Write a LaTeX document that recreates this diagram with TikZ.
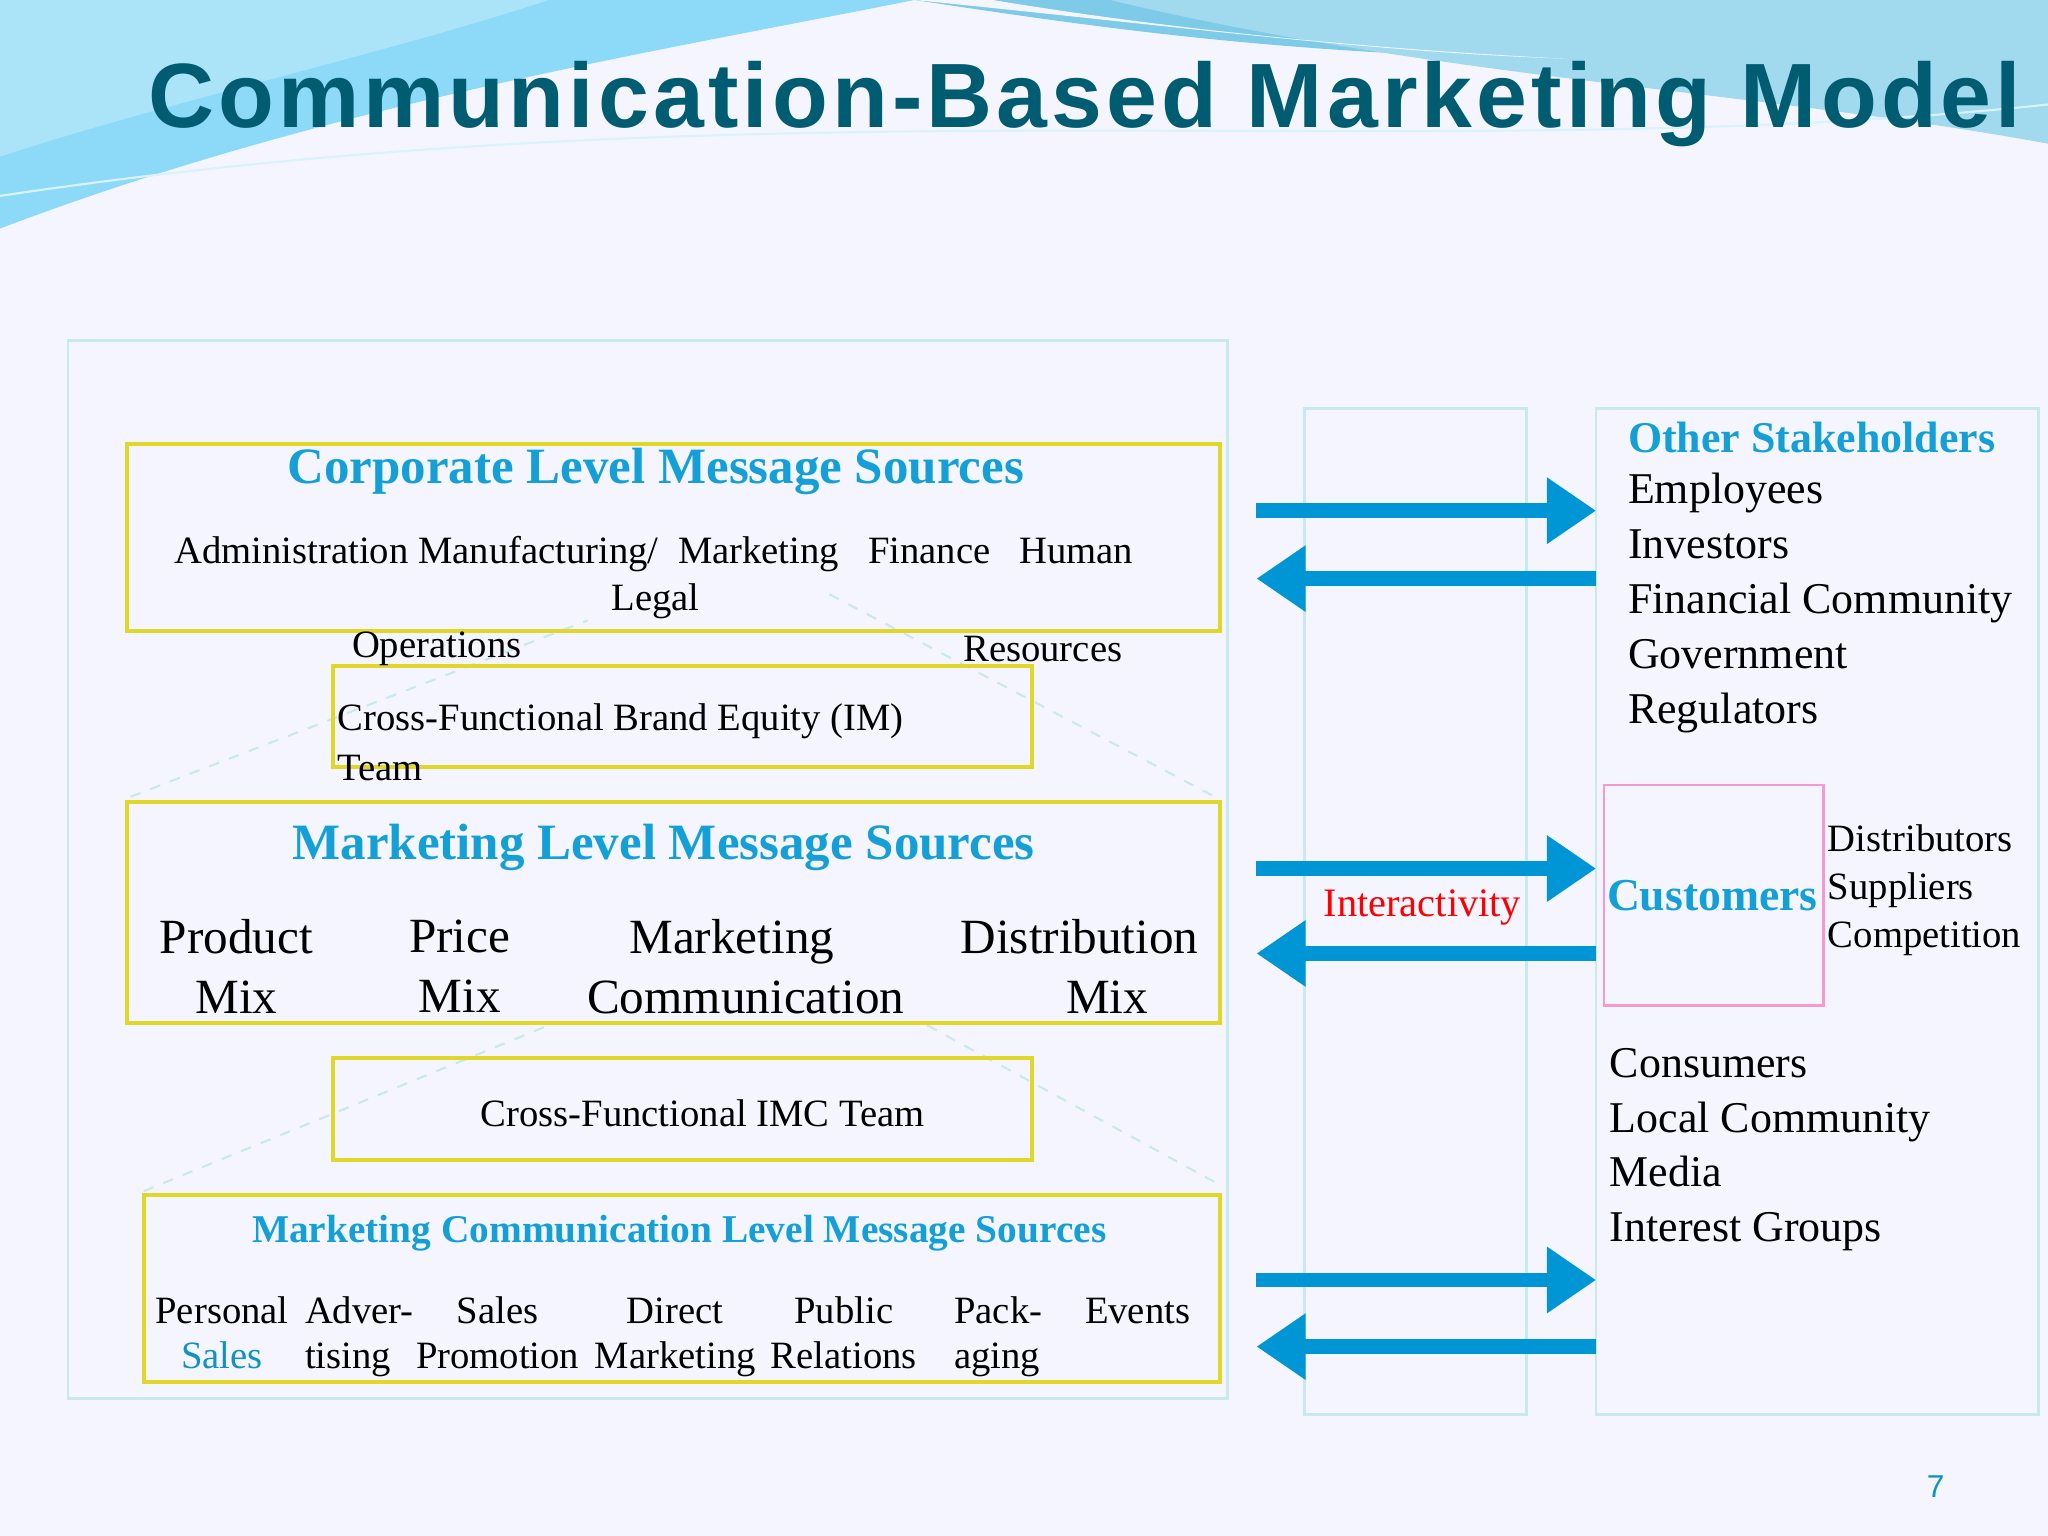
\documentclass[tikz,border=0pt]{standalone}
\usepackage{fontspec}
\setmainfont{Liberation Serif}
\newfontfamily\titlefont[LetterSpace=4.5]{Liberation Sans}
\newfontfamily\pgfont{Liberation Sans}
\usetikzlibrary{arrows.meta}
\definecolor{teal}{RGB}{0,92,112}
\definecolor{hblue}{RGB}{20,160,215}
\definecolor{abl}{RGB}{0,150,214}
\definecolor{frame}{RGB}{200,232,242}
\definecolor{ybox}{RGB}{225,215,40}
\tikzset{
 ybx/.style={draw=ybox,line width=1.2pt},
 fr/.style={draw=frame,line width=0.8pt},
 arr/.style={draw=abl,line width=4.2pt,-{Triangle[length=14pt,width=18pt]}},
 dl/.style={draw=frame,dashed,line width=0.6pt},
 hd/.style={text=hblue,font=\bfseries\fontsize{14.5}{16}\selectfont},
 bt/.style={font=\fontsize{11}{13}\selectfont,inner sep=0pt},
 bigt/.style={font=\fontsize{14}{17}\selectfont,inner sep=0pt,align=center},
 rt/.style={font=\fontsize{12.5}{15.6}\selectfont,inner sep=0pt,align=left}
}
\begin{document}
\begin{tikzpicture}[x=0.013061cm,y=-0.013061cm]
\useasboundingbox (0,0) rectangle (1568,1176);
\fill[white!96!blue] (0,0) rectangle (1568,1176);
% waves
\fill[cyan!45!white] (0,0) -- (700,0) .. controls (500,40) and (250,80) .. (0,175) -- cycle;
\fill[cyan!30!white,opacity=0.8] (0,0) -- (420,0) .. controls (300,40) and (120,80) .. (0,120) -- cycle;
\fill[hblue!55!white] (700,0) .. controls (900,30) and (1100,60) .. (1568,40) -- (1568,0) -- cycle;
\fill[hblue!40!white] (850,0) .. controls (1100,60) and (1350,70) .. (1568,110) -- (1568,0) -- cycle;
\fill[white!96!blue] (700,0) .. controls (900,20) and (1050,40) .. (1200,45) .. controls (1000,35) and (850,15) .. (760,0) -- cycle;
\draw[white!85!cyan, line width=0.6pt] (0,150) .. controls (600,60) and (1100,130) .. (1568,80);
\node[anchor=west,inner sep=0pt,text=teal,font=\titlefont\bfseries\fontsize{26}{30}\selectfont] (title) at (113,80) {Communication-Based Marketing Model};
% frames
\draw[fr] (52,261) rectangle (940,1071);
\draw[fr] (999,313) rectangle (1169,1083);
\draw[fr] (1222,313) rectangle (1561,1083);
% dashed
\draw[dl] (100,610) -- (450,475);
\draw[dl] (635,455) -- (930,610);
\draw[dl] (110,912) -- (420,785);
\draw[dl] (710,785) -- (930,905);
% yellow boxes
\draw[ybx] (97,340) rectangle (934,483);
\draw[ybx] (255,510) rectangle (790,587);
\draw[ybx] (97,614) rectangle (934,783);
\draw[ybx] (255,810) rectangle (790,888);
\draw[ybx] (110,915) rectangle (934,1058);
\node[hd] (h1) at (502,361) {Corporate Level Message Sources};
\node[bt,anchor=west] (c1) at (133,424) {Administration Manufacturing/\enspace Marketing\enspace\ Finance\enspace\ Human};
\node[bt] (c2) at (502,460) {Legal};
\node[bt,anchor=west] (c3) at (269,497) {Operations};
\node[bt,anchor=west] (c4) at (737,497) {Resources};
\node[bt,anchor=west] (cf1) at (258,552) {Cross-Functional Brand Equity (IM)};
\node[bt,anchor=west] (cf2) at (258,588) {Team};
\node[hd] (h2) at (508,649) {Marketing Level Message Sources};
\node[bigt] (m1) at (181,740) {Product\\Mix};
\node[bigt] (m2) at (352,740) {Price\\Mix};
\node[bigt,anchor=west,align=left] (m3) at (449,740) {\hspace{12pt}Marketing\\Communication};
\node[bigt,anchor=west,align=left] (m4) at (735,740) {Distribution\\\hspace{30pt}Mix};
\node[bt] (imc) at (538,852) {Cross-Functional IMC Team};
\node[hd,font=\bfseries\fontsize{11.2}{14}\selectfont] (h3) at (520,944) {Marketing Communication Level Message Sources};
\node[bt,align=center,anchor=north] (p1) at (170,988) {\strut Personal\\\textcolor{hblue!80!teal}{Sales}};
\node[bt,align=left,anchor=north west] (p2) at (233,988) {\strut Adver-\\tising};
\node[bt,align=center,anchor=north] (p3) at (381,988) {\strut Sales\\Promotion};
\node[bt,align=center,anchor=north] (p4) at (517,988) {\strut Direct\\Marketing};
\node[bt,align=center,anchor=north] (p5) at (646,988) {\strut Public\\Relations};
\node[bt,align=left,anchor=north west] (p6) at (730,988) {\strut Pack-\\aging};
\node[bt,anchor=north] (p7) at (871,988) {\strut Events};
% arrows
\coordinate (a1) at (962,391); \coordinate (b1) at (1222,391);
\coordinate (a2) at (1222,443); \coordinate (b2) at (962,443);
\coordinate (a3) at (962,665); \coordinate (b3) at (1222,665);
\coordinate (a4) at (1222,730); \coordinate (b4) at (962,730);
\coordinate (a5) at (962,980); \coordinate (b5) at (1222,980);
\coordinate (a6) at (1222,1031); \coordinate (b6) at (962,1031);
\draw[arr] (a1) -- (b1); \draw[arr] (a2) -- (b2);
\draw[arr] (a3) -- (b3); \draw[arr] (a4) -- (b4);
\draw[arr] (a5) -- (b5); \draw[arr] (a6) -- (b6);
\node[bt,text=red,font=\fontsize{11.5}{13}\selectfont] (inter) at (1089,695) {Interactivity};
% right
\node[hd,anchor=west,font=\bfseries\fontsize{12.5}{15}\selectfont,inner sep=0pt] (os) at (1246,335) {Other Stakeholders};
\node[rt,anchor=north west] (osl) at (1246,362) {Employees\\Investors\\Financial Community\\Government\\Regulators};
\draw[draw=magenta!40!white,line width=0.8pt] (1228,601) rectangle (1396,770);
\node[hd,font=\bfseries\fontsize{13}{15}\selectfont] (cu) at (1311,686) {Customers};
\node[bt,anchor=north west,align=left,font=\fontsize{11}{13.6}\selectfont] (dis) at (1399,631) {Distributors\\Suppliers\\Competition};
\node[rt,anchor=north west] (con) at (1232,802) {Consumers\\Local Community\\Media\\Interest Groups};
\node[text=hblue!80!teal,font=\pgfont\fontsize{9}{10}\selectfont] (pg) at (1482,1138) {7};
\end{tikzpicture}
\end{document}
